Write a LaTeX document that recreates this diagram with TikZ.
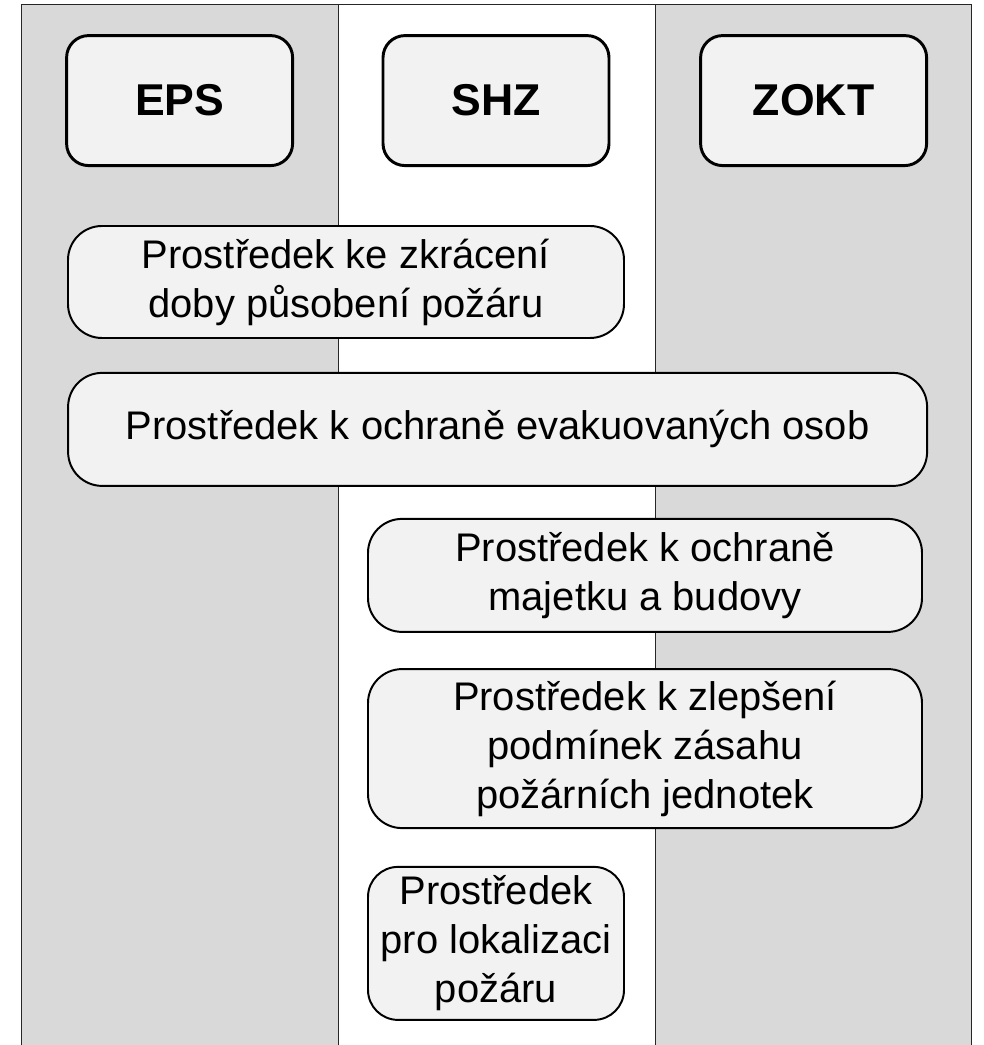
\documentclass[tikz,border=0pt]{standalone}
\usepackage{fontspec}
\setmainfont{Liberation Sans}
\usetikzlibrary{positioning}

\begin{document}
\begin{tikzpicture}[
  lane/.style={fill=black!15},
  sep/.style={draw=black!85,line width=0.7pt},
  head/.style={draw,line width=2.1pt,fill=black!5,rounded corners=0.55cm,
               minimum width=5.65cm,minimum height=3.25cm,
               font=\fontsize{31.7}{38}\selectfont\bfseries},
  means/.style={draw,line width=1.4pt,fill=black!5,rounded corners=0.85cm,
                align=center,inner sep=0pt,
                font=\fontsize{28.4}{34.8}\selectfont},
]
\useasboundingbox (0,0) rectangle (24.6,26.125);

%% =====================================================
%%  THREE SWIMLANES: EPS (left), SHZ (middle), ZOKT (right)
%% =====================================================
\fill[lane] (0.525,0) rectangle (8.45,26);
\fill[lane] (16.375,0) rectangle (24.275,26);
\draw[sep] (0.525,0) -- (0.525,26) -- (24.275,26) -- (24.275,0);
\draw[sep] (8.45,0) -- (8.45,26);
\draw[sep] (16.375,0) -- (16.375,26);

% --- lane headers ---
\node[head] (eps)  at (4.49,23.61)  {EPS};
\node[head] (shz)  at (12.4,23.61)  {SHZ};
\node[head] (zokt) at (20.34,23.61) {ZOKT};

%% =====================================================
%%  Purposes, spanning the lanes they belong to
%% =====================================================
\node[means,minimum width=13.9cm,minimum height=2.8cm] (zkraceni) at (8.65,19.075)
     {Prostředek ke zkrácení\\doby působení požáru};

\node[means,minimum width=21.475cm,minimum height=2.825cm] (evakuace) at (12.44,15.39)
     {Prostředek k ochraně evakuovaných osob};

\node[means,minimum width=13.85cm,minimum height=2.825cm] (majetek) at (16.125,11.74)
     {Prostředek k ochraně\\majetku a budovy};

\node[means,minimum width=13.85cm,minimum height=3.975cm] (zasah) at (16.125,7.41)
     {Prostředek k zlepšení\\podmínek zásahu\\požárních jednotek};

\node[means,rounded corners=0.75cm,minimum width=6.4cm,minimum height=3.825cm]
     (lokalizace) at (12.4,2.54)
     {Prostředek\\pro lokalizaci\\požáru};

\end{tikzpicture}
\end{document}
